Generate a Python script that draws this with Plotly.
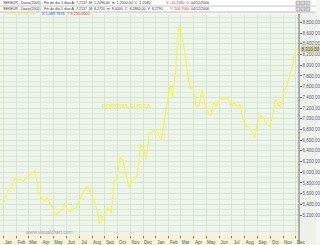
import pandas as pd
import plotly.graph_objects as go

# Weekly closes (Corona sueca)
start_date = "2004-12-31"
values = [5373, 5553, 5684, 5721, 5888, 5851, 5870, 5832, 5888, 5944,
          6000, 6037, 5646, 5553, 5460, 5535, 5442, 5330, 5181, 5256,
          5293, 5423, 5312, 5256, 5312, 5330, 5460, 5591, 5684, 5739,
          5591, 5479, 5330, 5033, 5163, 5256, 5330, 5237, 5832, 5907,
          6279, 6223, 5963, 5721, 5851, 5870, 5963, 6521, 6428, 6260,
          6744, 6744, 6800, 6725, 6595, 6893, 7265, 7599, 7413, 7878,
          8734, 8585, 8288, 7878, 7562, 7581, 7209, 7246, 7544, 7265,
          7134, 7060, 7302, 7227, 7376, 7358, 7376, 7376, 7227, 7302,
          7209, 7265, 6986, 6855, 6855, 6781, 6651, 6930, 7079, 7004,
          6911, 6855, 7023, 7358, 7265, 7209, 7525, 7618, 7804, 8009,
          8325]
dates = pd.date_range(start_date, periods=len(values), freq="7D")

month_ticks = pd.date_range("2005-01-01", "2006-12-01", freq="MS")
y_ticks = list(range(5200, 8801, 200))

last_label = "8,310.00"
series_name = "CORONA SUECA"
header1 = "SEKEUR - Diario(2005) - Fin de día 1 días A: 7,2137  M: 1,2096,40  m: 1,2000,00  C: 1,2080"
header1_red = "V: -40,2980  0"
header1_date = "04/12/2006"
header2 = "SEKEUR - Diario(2005) - Fin de día 1 días A: 7,2137  M: 8,2710  m: 8,0000  C: 8,2860,00  V: 8,2790"
header2_red = "Y: 206,7000"
header2_date = "04/12/2006"
xlab = "X 1,089.7676"
ylab = "Y 8,290.0000"

W, H = 320, 245
L, R, T, B = 0, 17, 15, 9
PW, PH = W - L - R, H - T - B

def py(p):
    return (H - B - p) / PH

def px(p):
    return (p - L) / PW

fig = go.Figure()
fig.add_trace(go.Scatter(x=dates, y=values, mode="lines",
                         line=dict(color="#f7f73a", width=1.1),
                         hoverinfo="skip", showlegend=False))

shapes = [
    dict(type="rect", xref="paper", yref="paper", x0=px(0), x1=px(320), y0=py(12), y1=py(0),
         fillcolor="#ffffff", line=dict(width=0), layer="below"),
    dict(type="line", xref="paper", yref="paper", x0=px(0), x1=px(320), y0=py(6), y1=py(6),
         line=dict(color="#9a9a9a", width=0.6)),
    dict(type="line", xref="paper", yref="paper", x0=px(0), x1=px(320), y0=py(12), y1=py(12),
         line=dict(color="#9a9a9a", width=0.6)),
    dict(type="rect", xref="paper", yref="paper", x0=px(303), x1=px(320), y0=py(245), y1=py(12),
         fillcolor="#eef3e8", line=dict(width=0), layer="below"),
    dict(type="line", xref="paper", yref="paper", x0=px(303), x1=px(303), y0=py(245), y1=py(14),
         line=dict(color="#6a6a6a", width=1)),
    dict(type="rect", xref="paper", yref="paper", x0=px(0), x1=px(303), y0=py(245), y1=py(236),
         fillcolor="#f7f3d6", line=dict(width=0), layer="below"),
]
for yy in (1, 7):
    for xx in (300, 305, 310):
        shapes.append(dict(type="rect", xref="paper", yref="paper", x0=px(xx), x1=px(xx + 4),
                           y0=py(yy + 4), y1=py(yy), fillcolor="#d8d8d8",
                           line=dict(color="#888888", width=0.5)))

hf = dict(family="Arial", size=3.6, color="#333333")
rf = dict(family="Arial", size=3.6, color="#d03030")
ann = [
    dict(text=header1, x=px(1), y=py(3), xanchor="left", yanchor="middle", font=hf),
    dict(text=header1_red, x=px(166), y=py(3), xanchor="left", yanchor="middle", font=rf),
    dict(text=header1_date, x=px(192), y=py(3), xanchor="left", yanchor="middle", font=hf),
    dict(text=header2, x=px(1), y=py(9), xanchor="left", yanchor="middle", font=hf),
    dict(text=header2_red, x=px(170), y=py(9), xanchor="left", yanchor="middle", font=rf),
    dict(text=header2_date, x=px(192), y=py(9), xanchor="left", yanchor="middle", font=hf),
    dict(text=series_name, x=px(1), y=py(13.5), xanchor="left", yanchor="middle",
         font=dict(family="Arial", size=4, color="#e8e85a")),
    dict(text=xlab, x=px(41), y=py(13.5), xanchor="left", yanchor="middle",
         font=dict(family="Arial", size=3.8, color="#3050c0")),
    dict(text=ylab, x=px(66), y=py(13.5), xanchor="left", yanchor="middle",
         font=dict(family="Arial", size=3.8, color="#e03030")),
    dict(text="<b>" + series_name + "</b>", x=px(129), y=py(106), xanchor="center", yanchor="middle",
         font=dict(family="Arial", size=6, color="#f2f23a")),
    dict(text="www.visualchart.com", x=px(50), y=py(233), xanchor="center", yanchor="middle",
         font=dict(family="Arial", size=5, color="#9a9ac0")),
    dict(text=last_label, x=1.0, y=8310, xref="paper", yref="y", xanchor="left", yanchor="middle",
         xshift=1, bgcolor="#d9d6a4", borderpad=0.5,
         font=dict(family="Arial", size=4.5, color="#444444")),
]
for a in ann:
    a.setdefault("xref", "paper")
    a.setdefault("yref", "paper")
    a["showarrow"] = False

fig.update_layout(
    width=W, height=H,
    margin=dict(l=L, r=R, t=T, b=B),
    paper_bgcolor="#f4f7ef",
    plot_bgcolor="#eef5ea",
    shapes=shapes,
    annotations=ann,
    xaxis=dict(type="date", range=["2004-12-24", "2006-12-09"],
               tickmode="array", tickvals=month_ticks, ticktext=[d.strftime("%b") for d in month_ticks],
               ticklabelshift=5, ticklabelstandoff=1,
               ticks="outside", ticklen=2, tickcolor="#777777",
               showgrid=True, gridcolor="#d6e4d0", gridwidth=0.6,
               tickfont=dict(family="Arial", size=4.5, color="#555555"),
               showline=False, zeroline=False, fixedrange=True),
    yaxis=dict(side="right", range=[4828, 8939],
               tickmode="array", tickvals=y_ticks,
               tickformat=",.2f", ticks="outside", ticklen=1.5, tickcolor="#6060a0",
               tickfont=dict(family="Arial", size=4.5, color="#5a5a90"),
               showgrid=True, gridcolor="#d6e4d0", gridwidth=0.6,
               minor=dict(dtick=100, tick0=0, showgrid=True, gridcolor="#dde9d7", gridwidth=0.5),
               showline=False, zeroline=False, fixedrange=True),
)

fig.write_html("out.html", config={"displayModeBar": False})
